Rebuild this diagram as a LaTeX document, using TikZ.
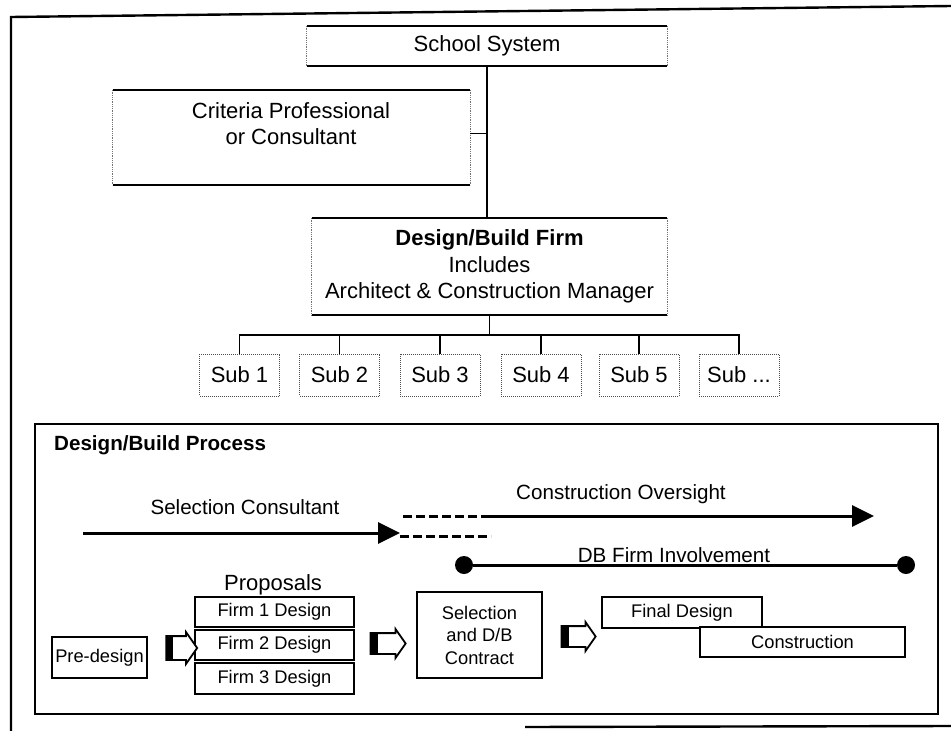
\documentclass[tikz,border=0pt]{standalone}
\usepackage{fontspec}
\setmainfont{Liberation Sans}
\usetikzlibrary{arrows.meta,shapes.arrows}

% org-chart boxes: solid top and bottom rules, faint dotted sides
\newcommand\orgframe[1]{%
  \draw[orgtb] (#1.north west) -- (#1.north east) (#1.south west) -- (#1.south east);
  \draw[orgside] (#1.north west) -- (#1.south west) (#1.north east) -- (#1.south east);}

\begin{document}
\begin{tikzpicture}[x=1pt,y=-1pt,
  orgtb/.style={line width=1.7pt},
  orgside/.style={line width=0.8pt, black!55, densely dotted},
  orgbox/.style={inner sep=0pt, align=center, font=\fontsize{22}{26.5}\selectfont},
  subbox/.style={draw=black!70, line width=1pt, densely dotted, minimum width=80pt,
    minimum height=42pt, inner sep=0pt, font=\fontsize{22}{26}\selectfont},
  conn/.style={line width=1.7pt},
  frameline/.style={line width=2.4pt},
  pbox/.style={draw, line width=2pt, fill=white, inner sep=0pt, align=center,
    font=\fontsize{18.3}{22.5}\selectfont},
  track/.style={line width=3pt},
  dashtrack/.style={line width=3pt, dash pattern=on 9pt off 4pt},
  tiphead/.style={-{Triangle[length=22pt,width=21pt]}},
  endpoint/.style={circle, fill=black, minimum size=18pt, inner sep=0pt},
  tracklabel/.style={inner sep=0pt, font=\fontsize{20.6}{24}\selectfont},
  hollow/.style={single arrow, draw, line width=1.8pt, fill=white, inner xsep=0pt,
    single arrow head extend=4pt, single arrow tip angle=110,
    path picture={\fill[black] (path picture bounding box.south west)
      rectangle ([xshift=7pt]path picture bounding box.north west);}}
]
\useasboundingbox (0,0) rectangle (951,731);
\fill[white] (0,0) rectangle (951,731);

% outer frame
\draw[frameline] (11,731) -- (11,17) -- (951,6);
\draw[frameline] (525,727) -- (951,726);

% ---------- organisation chart ----------
\node[orgbox, minimum width=360pt, minimum height=40pt] (ss) at (487,46) {School System};
\orgframe{ss}

\node[orgbox, minimum width=357pt, minimum height=95pt] (crit) at (291.5,137.5) {};
\orgframe{crit}
\node[orgbox] (crittext) at (291,123.5) {Criteria Professional\\or Consultant};

\node[orgbox, minimum width=355pt, minimum height=97pt] (db) at (489.5,266.5)
  {\textbf{Design/Build Firm}\\Includes\\Architect \& Construction Manager};
\orgframe{db}

\draw[conn] (ss.south) -- (ss.south |- db.north);
\draw[conn] ([yshift=4pt]crit.east) -- ([yshift=4pt]crit.east -| ss.south);

\node[subbox] (s1) at (239.5,375) {Sub 1};
\node[subbox] (s2) at (339.5,375) {Sub 2};
\node[subbox] (s3) at (440,375) {Sub 3};
\node[subbox] (s4) at (541,375) {Sub 4};
\node[subbox] (s5) at (639,375) {Sub 5};
\node[subbox] (s6) at (739,375) {Sub ...};

\coordinate (bus) at (489.5,335);
\draw[conn] (db.south) -- (bus);
\draw[conn] (s1.north) |- (bus);
\draw[conn] (s6.north) |- (bus);
\foreach \s in {s2,s3,s4,s5} \draw[conn] (\s.north) -- (\s.north |- bus);

% ---------- design/build process ----------
\node[draw, frameline, minimum width=903pt, minimum height=290pt, inner sep=0pt] (proc) at (486.5,569) {};
\node[anchor=west, inner sep=0pt, font=\fontsize{20.6}{24}\selectfont\bfseries] (proctitle) at (54,445) {Design/Build Process};

% consultant and oversight tracks
\coordinate (scA) at (83,533);
\coordinate (scB) at (400,533);
\coordinate (scC) at (491,536);
\coordinate (coA) at (403,516);
\coordinate (coB) at (484,516);
\coordinate (coC) at (874,516);
\draw[track, tiphead] (scA) -- (scB);
\draw[dashtrack] ([yshift=-3pt]scB) -- (scC);
\draw[dashtrack] (coA) -- (coB);
\draw[track, tiphead] (coB) -- (coC);
\node[tracklabel] (sclabel) at (245,507) {Selection Consultant};
\node[tracklabel] (colabel) at (621,494) {Construction Oversight};

% design/build firm involvement
\node[endpoint] (dbA) at (464,565) {};
\node[endpoint] (dbB) at (906,565) {};
\draw[track] (dbA) -- (dbB);
\node[tracklabel, anchor=base] (dblabel) at (674,562) {DB Firm Involvement};

% stages
\node[pbox, minimum width=95pt, minimum height=41pt] (pre) at (99.5,657.5) {Pre-design};
\node[inner sep=0pt, font=\fontsize{22}{26}\selectfont] (proposals) at (273,585) {Proposals};
\node[pbox, minimum width=159pt, minimum height=30pt] (f1) at (274.5,612) {Firm 1 Design};
\node[pbox, minimum width=159pt, minimum height=30pt] (f2) at (274.5,645) {Firm 2 Design};
\node[pbox, minimum width=159pt, minimum height=31pt] (f3) at (274.5,678.5) {Firm 3 Design};
\node[pbox, minimum width=125pt, minimum height=86pt] (sel) at (479.5,635) {Selection\\and D/B\\Contract};
\node[pbox, minimum width=160pt, minimum height=31pt] (final) at (682,612.5) {Final Design};
\node[pbox, minimum width=205pt, minimum height=30pt] (constr) at (802.5,642) {Construction};

% hollow block arrows between stages
\node[hollow, minimum height=31pt, inner ysep=11pt] (ar1) at (177.5,648) {};
\node[hollow, minimum height=35pt, inner ysep=9.5pt] (ar2) at (384.5,643.5) {};
\node[hollow, minimum height=34pt, inner ysep=9.5pt] (ar3) at (575,636.5) {};
\end{tikzpicture}
\end{document}
